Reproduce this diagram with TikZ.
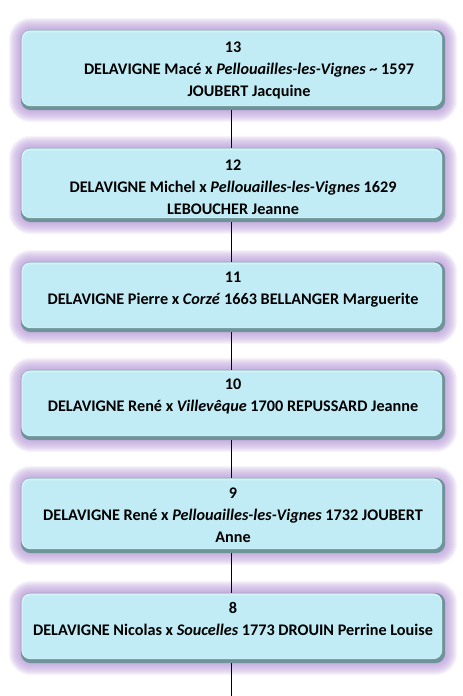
\documentclass[tikz,border=0pt]{standalone}
\usepackage{fontspec}
\setmainfont{Carlito}
\definecolor{facec}{HTML}{C2ECF5}
\definecolor{rimc}{HTML}{6E9499}
\definecolor{glowc}{HTML}{B596D6}
\tikzset{
  boxshape/.style={rectangle, inner sep=0pt, minimum width=424bp},
  txt/.style={align=center, inner sep=0pt, font=\fontsize{16.2bp}{22bp}\selectfont\bfseries, text=black},
  conn/.style={line width=1.4bp, black}
}
\begin{document}
\begin{tikzpicture}[x=1bp,y=-1bp]
\useasboundingbox (0,0) rectangle (463,696);
\node[boxshape, minimum height=80bp] (b13) at (233,70) {};
\node[boxshape, minimum height=74bp] (b12) at (233,185) {};
\node[boxshape, minimum height=70bp] (b11) at (233,297) {};
\node[boxshape, minimum height=70bp] (b10) at (233,405) {};
\node[boxshape, minimum height=75bp] (b9) at (233,515.5) {};
\node[boxshape, minimum height=70bp] (b8) at (233,628) {};
\coordinate (end) at (231.5,696);
% glow
\foreach \b in {b13,b12,b11,b10,b9,b8}{
  \foreach \i in {1,...,12}{
    \pgfmathsetmacro\rr{10+\i}
    \fill[glowc, opacity=0.1, rounded corners=\rr bp]
      ([shift={(-\i bp,\i bp)}]\b.north west) rectangle ([shift={(\i bp,-\i bp)}]\b.south east);
  }
}
% connectors
\draw[conn] ([xshift=-1.5bp]b13.south) -- ([xshift=-1.5bp]b12.north);
\draw[conn] ([xshift=-1.5bp]b12.south) -- ([xshift=-1.5bp]b11.north);
\draw[conn] ([xshift=-1.5bp]b11.south) -- ([xshift=-1.5bp]b10.north);
\draw[conn] ([xshift=-1.5bp]b10.south) -- ([xshift=-1.5bp]b9.north);
\draw[conn] ([xshift=-1.5bp]b9.south) -- ([xshift=-1.5bp]b8.north);
\draw[conn] ([xshift=-1.5bp]b8.south) -- (end);
% faces
\foreach \b in {b13,b12,b11,b10,b9,b8}{
  \fill[rimc, rounded corners=10bp] (\b.north west) rectangle (\b.south east);
  \fill[facec!70!white, rounded corners=9bp] ([shift={(0.5bp,-0.5bp)}]\b.north west) rectangle ([shift={(-3bp,4bp)}]\b.south east);
  \fill[facec, rounded corners=8bp] ([shift={(2bp,-2.5bp)}]\b.north west) rectangle ([shift={(-3.5bp,4.5bp)}]\b.south east);
}
% texts
\node[txt, anchor=north] (t13) at ([yshift=-11bp]b13.north) {\rule{0pt}{12bp}13\\\hspace*{32bp}DELAVIGNE Macé x \textit{Pellouailles-les-Vignes} \textasciitilde{} 1597\\\hspace*{32bp}JOUBERT Jacquine};
\node[txt, anchor=north] (t12) at ([yshift=-10.5bp]b12.north) {\rule{0pt}{12bp}12\\DELAVIGNE Michel x \textit{Pellouailles-les-Vignes} 1629\\LEBOUCHER Jeanne};
\node[txt, anchor=north] (t11) at ([yshift=-8.5bp]b11.north) {\rule{0pt}{12bp}11\\DELAVIGNE Pierre x \textit{Corzé} 1663 BELLANGER Marguerite};
\node[txt, anchor=north] (t10) at ([yshift=-7.5bp]b10.north) {\rule{0pt}{12bp}10\\DELAVIGNE René x \textit{Villevêque} 1700 REPUSSARD Jeanne};
\node[txt, anchor=north] (t9) at ([yshift=-8.5bp]b9.north) {\rule{0pt}{12bp}9\\DELAVIGNE René x \textit{Pellouailles-les-Vignes} 1732 JOUBERT\\Anne};
\node[txt, anchor=north] (t8) at ([yshift=-8.5bp]b8.north) {\rule{0pt}{12bp}8\\DELAVIGNE Nicolas x \textit{Soucelles} 1773 DROUIN Perrine Louise};
\end{tikzpicture}
\end{document}
